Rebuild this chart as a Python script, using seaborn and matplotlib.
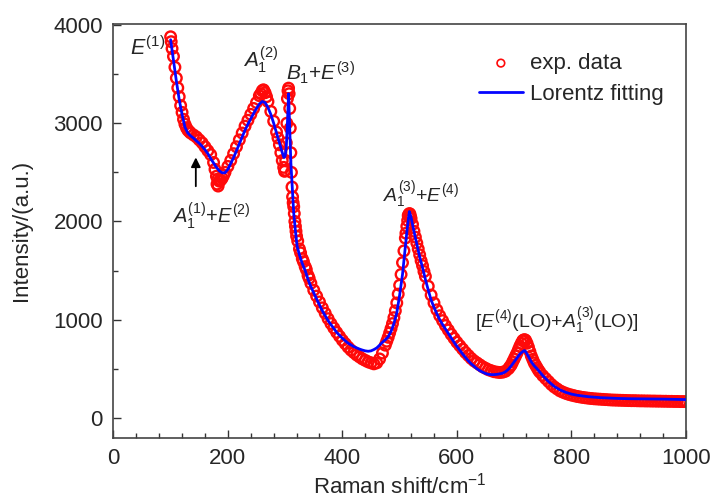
import numpy as np
import pandas as pd
import matplotlib
matplotlib.use("Agg")
import matplotlib.pyplot as plt
from matplotlib.ticker import MultipleLocator
import seaborn as sns

# ---------------- data ----------------
# experimental data: regular grid 100..1000 step 5
exp_x = list(range(100, 1001, 5))
exp_y = [
    3880, 3680, 3460, 3270, 3110, 2990, 2930, 2900, 2880, 2860,   # 100-145
    2830, 2800, 2760, 2720, 2680, 2600, 2460, 2410, 2440, 2500,   # 150-195
    2560, 2620, 2690, 2760, 2830, 2900, 2970, 3030, 3090, 3150,   # 200-245
    3210, 3280, 3330, 3310, 3220, 3120, 3020, 2910, 2780, 2620,   # 250-295
    2520, 3330, 2700, 2150, 1850, 1720, 1620, 1540, 1450, 1370,   # 300-345
    1300, 1240, 1180, 1120, 1065, 1010, 960, 915, 870, 830,       # 350-395
    790, 755, 720, 690, 665, 640, 620, 600, 585, 570,             # 400-445
    560, 550, 560, 600, 660, 740, 820, 910, 1020, 1170,           # 450-495
    1350, 1580, 1830, 2060, 2030, 1900, 1780, 1660, 1550, 1440,   # 500-545
    1340, 1250, 1170, 1100, 1040, 990, 940, 895, 850, 810,        # 550-595
    770, 735, 700, 665, 635, 605, 580, 560, 540, 520,             # 600-645
    505, 490, 480, 470, 465, 462, 465, 475, 500, 540,             # 650-695
    600, 660, 730, 785, 790, 720, 630, 560, 510, 465,             # 700-745
    430, 400, 370, 340, 315, 295, 275, 262, 250, 240,             # 750-795
    232, 225, 218, 213, 208, 204, 200, 197, 194, 192,             # 800-845
    190, 188, 186, 184, 182, 181, 180, 179, 178, 177,             # 850-895
    176, 175, 175, 174, 173, 173, 172, 172, 171, 171,             # 900-945
    170, 170, 169, 169, 168, 168, 167, 167, 166, 166,             # 950-995
    165,                                                          # 1000
]
# extra experimental points read on the steep parts / peaks
exp_x_extra = [101, 102.5, 107.5, 112.5, 117.5, 122.5, 127.5, 132.5,
               177.5, 181, 182.5, 183, 187.5, 192.5,
               257.5, 262, 262.5, 267.5, 287.5, 292.5, 297.5,
               299, 301, 302, 303, 304, 306, 307, 308, 309, 311, 312,
               313, 314, 316, 317, 318, 319, 322, 327, 332, 337, 342,
               477.5, 482.5, 487.5, 492.5, 497.5, 502.5, 507.5, 511,
               512.5, 514, 516, 517, 518, 519, 522.5, 527.5, 532.5,
               537.5, 542.5,
               692.5, 697.5, 702.5, 707.5, 712.5, 716, 718, 722.5, 727.5,
               732.5, 737.5, 742.5]
exp_y_extra = [3830, 3760, 3570, 3360, 3180, 3040, 2955, 2915,
               2530, 2380, 2430, 2360, 2420, 2470,
               3300, 3340, 3335, 3270, 2850, 2700, 2550,
               2510, 2620, 2800, 3000, 3250, 3357, 3300, 3150, 2950, 2500, 2350,
               2250, 2190, 2080, 2000, 1950, 1900, 1800, 1680, 1590, 1510, 1420,
               780, 865, 960, 1090, 1260, 1460, 1700, 1880,
               1950, 2010, 2070, 2080, 2075, 2050, 1970, 1840, 1720,
               1600, 1490,
               520, 570, 630, 695, 760, 790, 797, 760, 675,
               595, 535, 485]

# Lorentz fitting curve
fit_x = [100, 105, 110, 115, 120, 125, 130, 135, 140, 145, 150, 155, 160, 165,
         170, 175, 180, 185, 190, 195, 200, 205, 210, 215, 220, 225, 230, 235,
         240, 245, 250, 255, 260, 265, 270, 275, 280, 285, 290, 295, 298, 300,
         302, 304, 306, 308, 310, 312, 315, 318, 321, 325, 330, 335, 340, 345,
         350, 355, 360, 365, 370, 375, 380, 385, 390, 395, 400, 405, 410, 415,
         420, 425, 430, 435, 440, 445, 450, 455, 460, 465, 470, 475, 480, 485,
         490, 495, 500, 505, 510, 513, 517, 520, 525, 530, 535, 540, 545, 550,
         555, 560, 565, 570, 575, 580, 585, 590, 595, 600, 605, 610, 615, 620,
         625, 630, 635, 640, 645, 650, 655, 660, 665, 670, 675, 680, 685, 690,
         695, 700, 705, 710, 715, 718, 720, 725, 730, 735, 740, 750, 760, 770,
         780, 790, 800, 810, 820, 830, 840, 850, 860, 870, 880, 890, 900, 920,
         940, 960, 980, 1000]
fit_y = [3850, 3640, 3430, 3240, 3090, 2960, 2900, 2870, 2848, 2820, 2795, 2765, 2730, 2690,
         2640, 2594, 2550, 2515, 2495, 2495, 2530, 2590, 2650, 2720, 2790, 2860, 2930, 2990,
         3045, 3100, 3150, 3195, 3221, 3210, 3160, 3090, 3000, 2900, 2800, 2700, 2650, 2665,
         2750, 3000, 3300, 2950, 2600, 2400, 2085, 1900, 1746, 1660, 1570, 1500, 1410, 1335,
         1272, 1210, 1150, 1090, 1040, 990, 950, 910, 870, 840, 810, 785, 760, 742,
         725, 712, 700, 690, 682, 678, 682, 695, 712, 740, 770, 795, 825, 880,
         960, 1068, 1250, 1460, 1750, 1916, 2100, 2040, 1900, 1770, 1640, 1530, 1410, 1300,
         1200, 1125, 1060, 1000, 950, 905, 860, 815, 770, 728, 690, 650, 615, 580,
         550, 525, 500, 480, 465, 452, 443, 440, 440, 443, 448, 455, 470, 495,
         530, 570, 610, 650, 675, 685, 675, 625, 570, 530, 500, 430, 370, 320,
         285, 260, 242, 230, 222, 215, 210, 206, 203, 200, 198, 196, 195, 194,
         193, 191, 189, 186]

x_ticks = [0, 200, 400, 600, 800, 1000]
y_ticks = [0, 1000, 2000, 3000, 4000]

# ---------------- styling ----------------
sns.set_style("ticks")
plt.rcParams["font.family"] = ["Liberation Sans", "DejaVu Sans"]
plt.rcParams["mathtext.fontset"] = "custom"
plt.rcParams["mathtext.rm"] = "Liberation Sans"
plt.rcParams["mathtext.it"] = "Liberation Sans:italic"
plt.rcParams["mathtext.bf"] = "Liberation Sans:bold"

df_exp = pd.DataFrame({"x": exp_x + exp_x_extra, "y": exp_y + exp_y_extra})
df_fit = pd.DataFrame({"x": fit_x, "y": fit_y})

fig = plt.figure(figsize=(7.13, 5.0), dpi=100)
ax = fig.add_axes([0.159, 0.125, 0.803, 0.827])

red = "#ff0a0a"
blue = "#0505ff"
sns.scatterplot(data=df_exp, x="x", y="y", ax=ax, marker="o", s=58,
                facecolor="none", edgecolor=red, linewidth=1.7,
                label="exp. data", zorder=2)
sns.lineplot(data=df_fit, x="x", y="y", ax=ax, color=blue, linewidth=2.0,
             label="Lorentz fitting", zorder=3, sort=False)

ax.set_xlim(0, 1000)
ax.set_ylim(-200, 4010)
ax.set_xticks(x_ticks)
ax.set_yticks(y_ticks)
ax.xaxis.set_minor_locator(MultipleLocator(40))
ax.yaxis.set_minor_locator(MultipleLocator(500))
ax.tick_params(axis="both", which="major", direction="in", length=6,
               width=1, labelsize=16, color="#333333", pad=7.5)
ax.tick_params(axis="both", which="minor", direction="in", length=3.5,
               width=1, color="#333333")
ax.tick_params(top=False, right=False, which="both")
for sp in ax.spines.values():
    sp.set_visible(True)
    sp.set_color("#444444")
    sp.set_linewidth(1.2)

ax.set_xlabel("Raman shift/cm$^{-1}$", fontsize=16, labelpad=3)
ax.set_ylabel("Intensity/(a.u.)", fontsize=16, labelpad=15)

ax.text(59, 3767, r"$E^{(1)}$", fontsize=15.5, ha="center", va="center")
ax.text(257, 3645, r"$A_1^{(2)}$", fontsize=15, ha="center", va="center")
ax.text(362, 3512, r"$B_1$+$E^{(3)}$", fontsize=15, ha="center", va="center")
ax.text(171, 2058, r"$A_1^{(1)}$+$E^{(2)}$", fontsize=14.5, ha="center", va="center")
ax.text(538, 2269, r"$A_1^{(3)}$+$E^{(4)}$", fontsize=14, ha="center", va="center")
ax.text(774, 980, r"[$E^{(4)}$(LO)+$A_1^{(3)}$(LO)]", fontsize=14,
        ha="center", va="center")
ax.annotate("", xy=(144, 2680), xytext=(144, 2330),
            arrowprops=dict(arrowstyle="-|>", color="black", lw=1.3,
                            mutation_scale=14))

leg = ax.legend(loc="upper left", bbox_to_anchor=(0.638, 0.93), frameon=False,
                fontsize=16, handlelength=2.0, handletextpad=0.3,
                labelspacing=0.45, borderaxespad=0.0, borderpad=0.0)
for h in leg.legend_handles:
    try:
        h.set_sizes([30])
        h.set_linewidth(1.2)
    except Exception:
        pass

fig.savefig("out.png", dpi=100)
